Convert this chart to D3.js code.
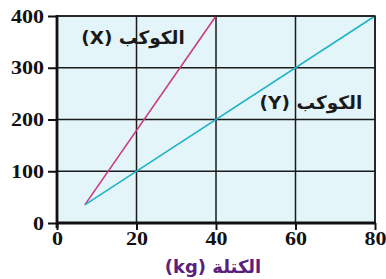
<!DOCTYPE html>
<html><head><meta charset="utf-8">
<script src="https://cdn.jsdelivr.net/npm/d3@7"></script>
<style>html,body{margin:0;padding:0;background:#fff;}svg{display:block;}
.num{font-family:"Liberation Serif","Times New Roman",Times,serif;font-weight:bold;font-size:19px;}</style>
</head><body>
<script>
const xTicks = [0, 20, 40, 60, 80];
const yTicks = [0, 100, 200, 300, 400];
const seriesNames = ["الكوكب (X)", "الكوكب (Y)"];
const massX = [7, 40];
const weightX = [35, 400];
const massY = [7, 80];
const weightY = [35, 400];
const xTitle = "الكتلة (kg)";

const W = 386, H = 279;
const svg = d3.select("body").append("svg").attr("width", W).attr("height", H);
const x = d3.scaleLinear().domain([0, 80]).range([57, 375]);
const y = d3.scaleLinear().domain([0, 400]).range([223, 16]);

svg.append("rect").attr("x", x(0)).attr("y", y(400)).attr("width", x(80) - x(0)).attr("height", y(0) - y(400))
  .attr("fill", "#e4f5f9");

// grid
svg.append("g").selectAll("line").data(xTicks.filter(d => d > 0)).join("line")
  .attr("x1", d => x(d)).attr("x2", d => x(d)).attr("y1", y(0)).attr("y2", y(400))
  .attr("stroke", "#1a1a1a").attr("stroke-width", 1.5);
svg.append("g").selectAll("line").data(yTicks.filter(d => d > 0)).join("line")
  .attr("x1", x(0)).attr("x2", x(80)).attr("y1", d => y(d)).attr("y2", d => y(d))
  .attr("stroke", "#1a1a1a").attr("stroke-width", 1.5);

// series
const line = d3.line();
svg.append("path").attr("d", line(massX.map((m, i) => [x(m), y(weightX[i])])))
  .attr("fill", "none").attr("stroke", "#c83c82").attr("stroke-width", 1.6);
svg.append("path").attr("d", line(massY.map((m, i) => [x(m), y(weightY[i])])))
  .attr("fill", "none").attr("stroke", "#1fb3c6").attr("stroke-width", 1.6);

// axes
const gy = svg.append("g").attr("transform", `translate(${x(0)},0)`)
  .call(d3.axisLeft(y).tickValues(yTicks).tickSize(9).tickPadding(4).tickSizeOuter(0));
const gx = svg.append("g").attr("transform", `translate(0,${y(0)})`)
  .call(d3.axisBottom(x).tickValues(xTicks).tickSize(7).tickPadding(2).tickSizeOuter(0));
[gy, gx].forEach(g => {
  g.attr("font-family", null).attr("font-size", null);
  g.select(".domain").attr("stroke", "#111").attr("stroke-width", 2.8);
  g.selectAll(".tick line").attr("stroke", "#111").attr("stroke-width", 2);
  g.selectAll(".tick text").attr("fill", "#111").attr("class", "num")
    .attr("textLength", d => String(d).length * 11).attr("lengthAdjust", "spacingAndGlyphs");
});
gy.select(".domain").attr("d", `M0,${y(400) - 1}V${y(0) + 5}`);
gx.select(".domain").attr("d", `M${x(0) - 1},0H${x(80) + 1}`);

// top & right border
svg.append("path").attr("d", `M${x(0)},${y(400)}H${x(80)}V${y(0)}`)
  .attr("fill", "none").attr("stroke", "#1a1a1a").attr("stroke-width", 1.5);

// series labels
const arFont = "'DejaVu Sans', 'Noto Sans', sans-serif";
svg.append("text").attr("x", 133).attr("y", 44).attr("text-anchor", "middle")
  .attr("direction", "rtl").style("font-family", arFont).style("font-weight", "bold")
  .style("font-size", "18.5px").attr("fill", "#1a1a1a").text(seriesNames[0]);
svg.append("text").attr("x", 311).attr("y", 109).attr("text-anchor", "middle")
  .attr("direction", "rtl").style("font-family", arFont).style("font-weight", "bold")
  .style("font-size", "18.5px").attr("fill", "#1a1a1a").text(seriesNames[1]);

// x title
svg.append("text").attr("x", 213).attr("y", 273).attr("text-anchor", "middle")
  .attr("direction", "rtl").style("font-family", arFont).style("font-weight", "bold")
  .style("font-size", "18px").attr("fill", "#5b1f7e").text(xTitle);
</script>
</body></html>
